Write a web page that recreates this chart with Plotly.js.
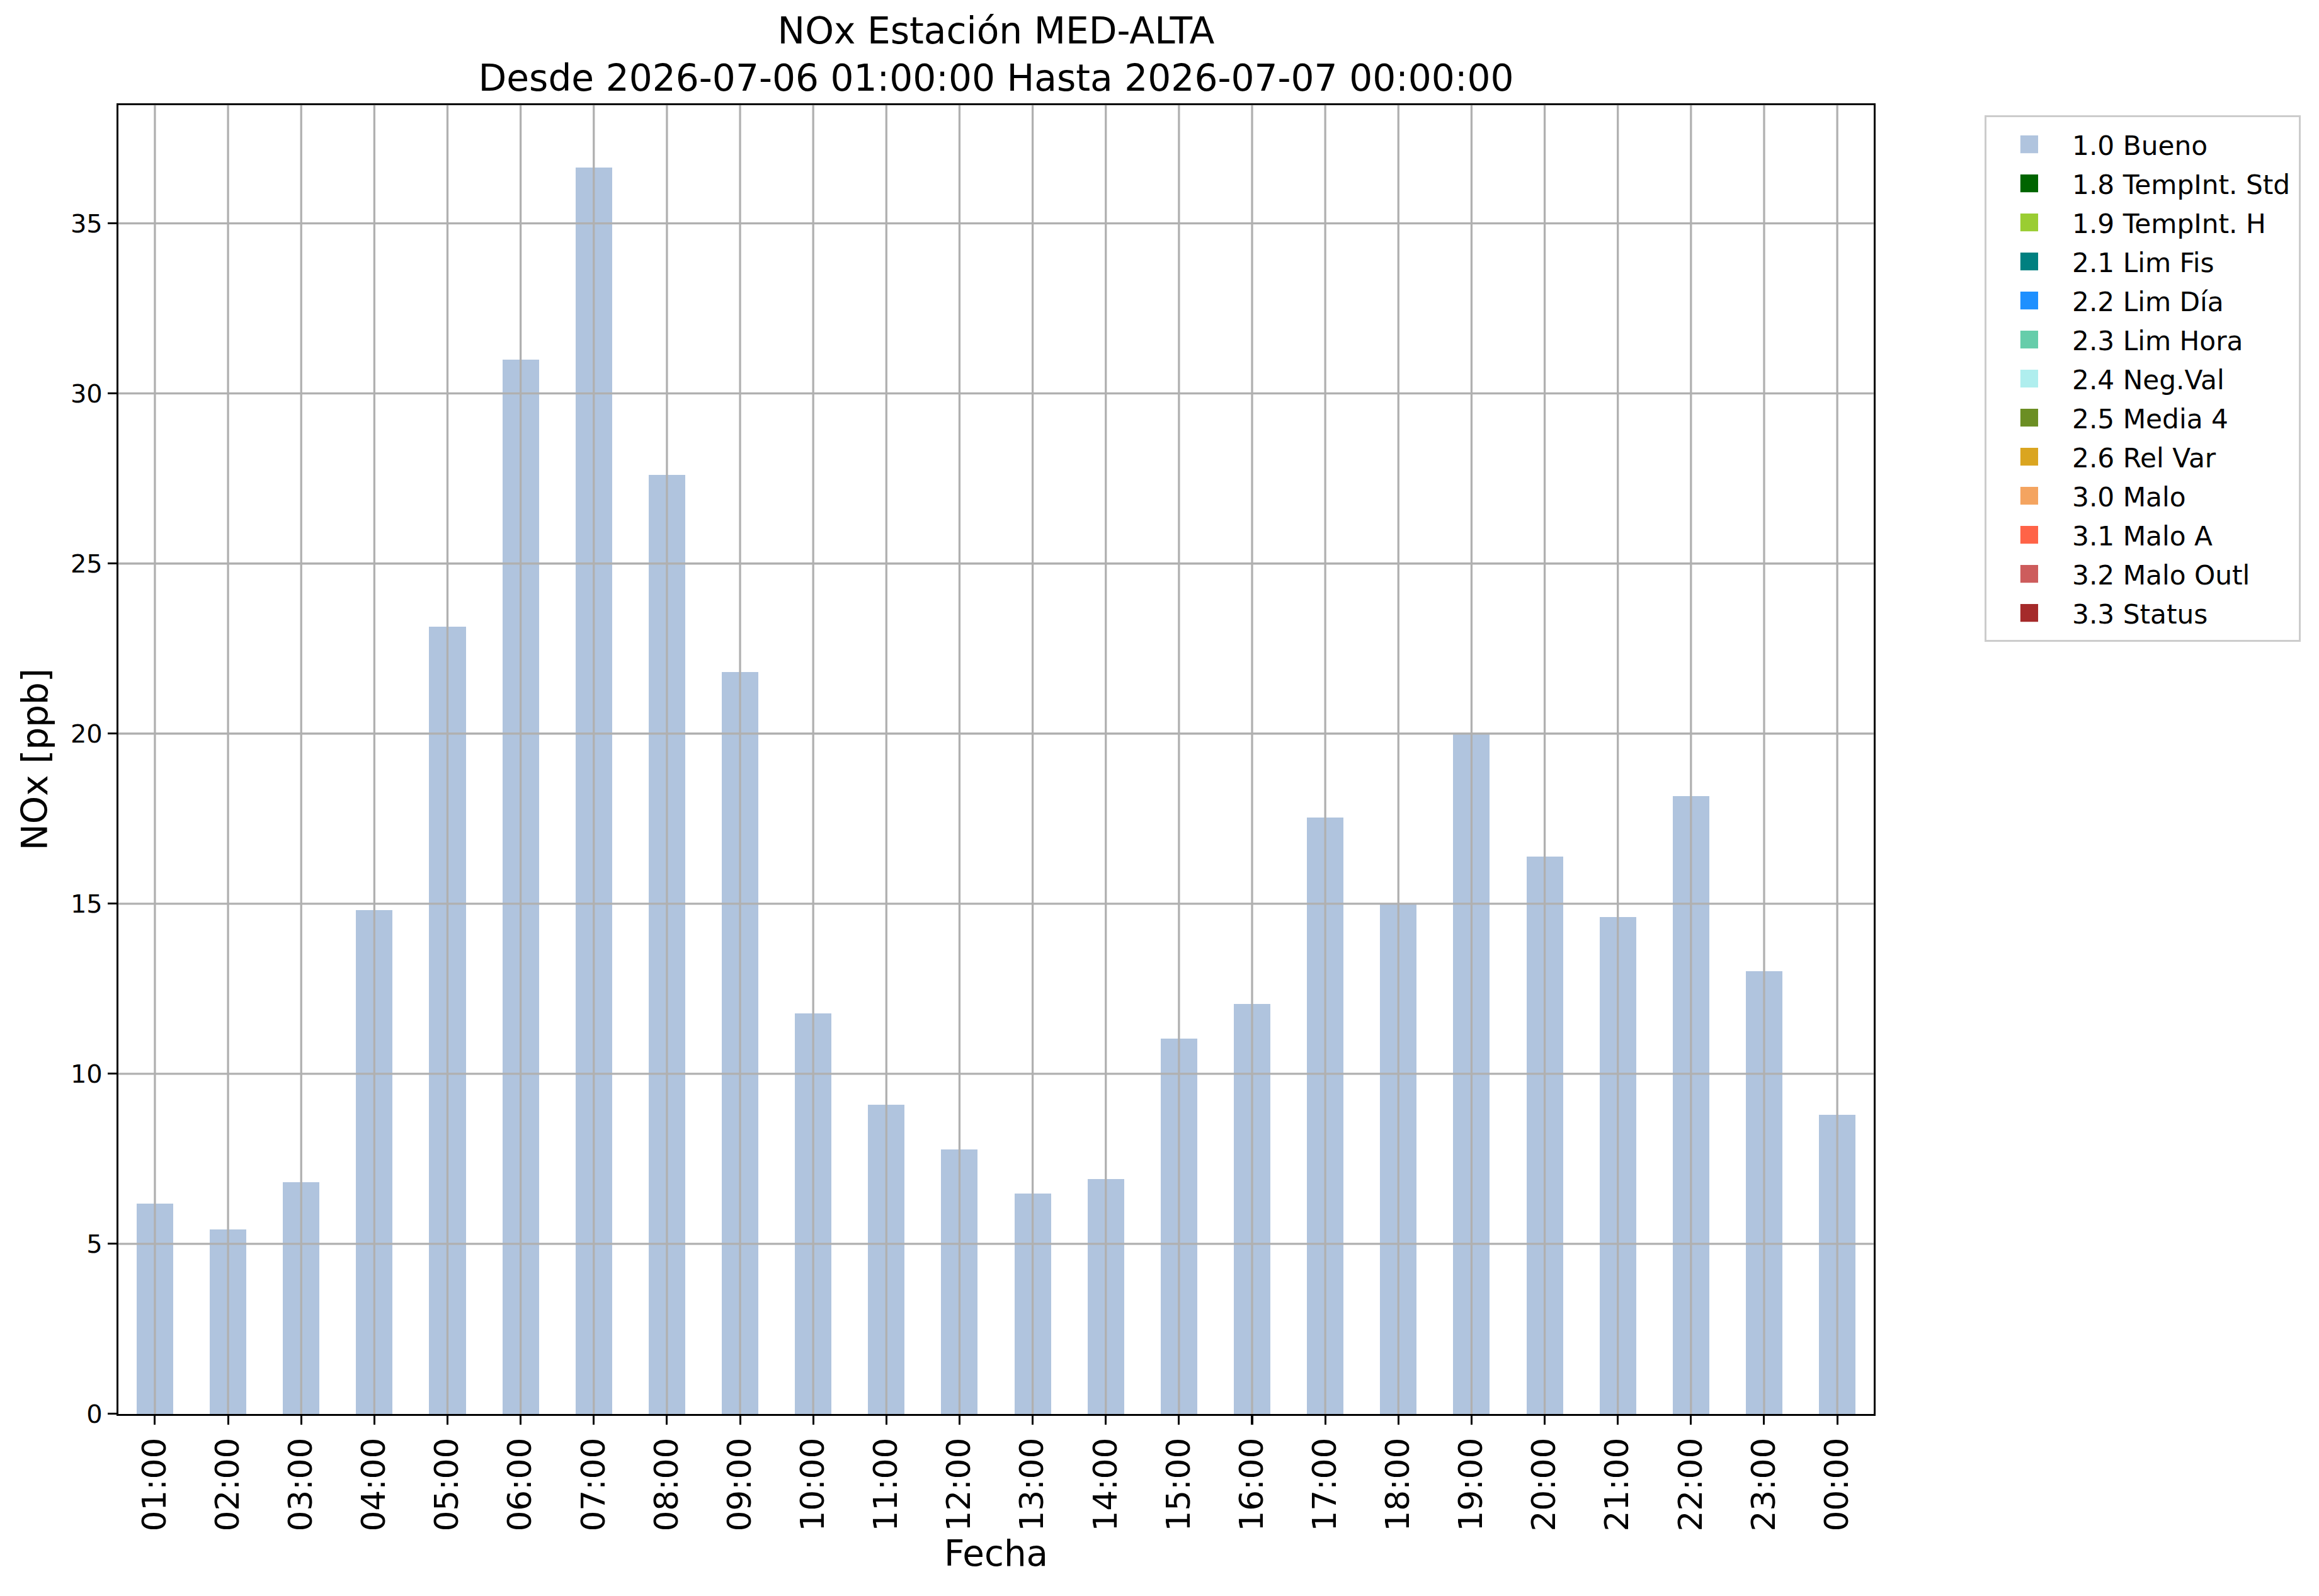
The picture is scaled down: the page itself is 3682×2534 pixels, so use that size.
<!DOCTYPE html>
<html>
<head>
<meta charset="utf-8">
<script src="https://cdn.plot.ly/plotly-3.0.1.min.js"></script>
<style>
	html, body { margin: 0; padding: 0; background: #fff; width: 3682px; height: 2534px; }
	/* draw at 1568 px wide and scale up to the 3682 px window */
	#plot { width: 1568px; height: 1079px; transform: scale(2.348214); transform-origin: 0 0; }
</style>
</head>
<body>
<div id="plot"></div>
<script>
const hours = [
	"01:00", "02:00", "03:00", "04:00", "05:00", "06:00", "07:00", "08:00",
	"09:00", "10:00", "11:00", "12:00", "13:00", "14:00", "15:00", "16:00",
	"17:00", "18:00", "19:00", "20:00", "21:00", "22:00", "23:00", "00:00",
];
const noxBueno = [
	6.18, 5.42, 6.82, 14.82, 23.15, 31.0, 36.65, 27.6,
	21.81, 11.78, 9.09, 7.78, 6.47, 6.9, 11.03, 12.06,
	17.53, 14.98, 19.97, 16.38, 14.61, 18.16, 13.01, 8.8,
];
const flagLabels = [
	"1.0 Bueno", "1.8 TempInt. Std", "1.9 TempInt. H", "2.1 Lim Fis",
	"2.2 Lim Día", "2.3 Lim Hora", "2.4 Neg.Val", "2.5 Media 4",
	"2.6 Rel Var", "3.0 Malo", "3.1 Malo A", "3.2 Malo Outl", "3.3 Status",
];
const flagColors = [
	"#b0c4de", "#006400", "#9acd32", "#008080",
	"#1e90ff", "#66cdaa", "#afeeee", "#6b8e23",
	"#daa520", "#f4a460", "#ff6347", "#cd5c5c", "#a52a2a",
];
const yTicks = [0, 5, 10, 15, 20, 25, 30, 35];

const FONT = "DejaVu Sans";
const GRID = "#b0b0b0";

// only "Bueno" has values; the other flags have none in this period
// (nulls keep the trace alive so it still gets a legend entry)
const noValues = hours.map(() => null);

const data = flagLabels.map((name, i) => ({
	type: "bar",
	name,
	x: hours,
	y: i === 0 ? noxBueno : noValues,
	width: 0.5,
	marker: { color: flagColors[i], line: { width: 0 } },
	hoverinfo: "skip",
}));

// matplotlib draws its grid over the bars, so the grid is made of shapes
const gridLine = { type: "line", layer: "above", line: { color: GRID, width: 1.4 } };
const shapes = [
	...hours.map(h => ({ ...gridLine, xref: "x", yref: "paper", x0: h, x1: h, y0: 0, y1: 1 })),
	...yTicks.filter(v => v > 0).map(v => ({ ...gridLine, xref: "paper", yref: "y", x0: 0, x1: 1, y0: v, y1: v })),
];

const axisCommon = {
	showline: true,
	mirror: true,
	linecolor: "#000",
	linewidth: 1.3,
	showgrid: false,
	zeroline: false,
	ticks: "outside",
	ticklen: 6,
	tickwidth: 1.3,
	tickcolor: "#000",
	automargin: false,
	layer: "above traces",
};

const layout = {
	width: 1568,
	height: 1079,
	margin: { l: 79.5, r: 301, t: 71, b: 123 },
	paper_bgcolor: "#fff",
	plot_bgcolor: "#fff",
	font: { family: FONT, color: "#000" },
	barmode: "stack",
	bargap: 0,
	hovermode: false,
	title: {
		text: "NOx Estación MED-ALTA<br>Desde 2026-07-06 01:00:00 Hasta 2026-07-07 00:00:00",
		font: { family: FONT, size: 24.8, color: "#000" },
		xref: "paper",
		x: 0.5,
		xanchor: "center",
		yref: "container",
		y: 0.9729,
		yanchor: "top",
	},
	xaxis: {
		...axisCommon,
		type: "category",
		categoryorder: "array",
		categoryarray: hours,
		range: [-0.5, 23.5],
		tickangle: -90,
		tickfont: { family: FONT, size: 22 },
		title: { text: "Fecha", font: { family: FONT, size: 24 }, standoff: 7 },
	},
	yaxis: {
		...axisCommon,
		range: [0, 38.48],
		tickvals: yTicks,
		ticktext: yTicks.map(String),
		tickfont: { family: FONT, size: 17 },
		title: { text: "NOx [ppb]", font: { family: FONT, size: 24 }, standoff: 8 },
	},
	shapes,
	showlegend: true,
	legend: {
		x: 1.063,
		xanchor: "left",
		y: 0.992,
		yanchor: "top",
		bgcolor: "#fff",
		bordercolor: "#cccccc",
		borderwidth: 1.3,
		font: { family: FONT, size: 18, color: "#000" },
		itemwidth: 48,
		traceorder: "normal",
	},
};

Plotly.newPlot("plot", data, layout, { displayModeBar: false, staticPlot: true });
</script>
</body>
</html>
